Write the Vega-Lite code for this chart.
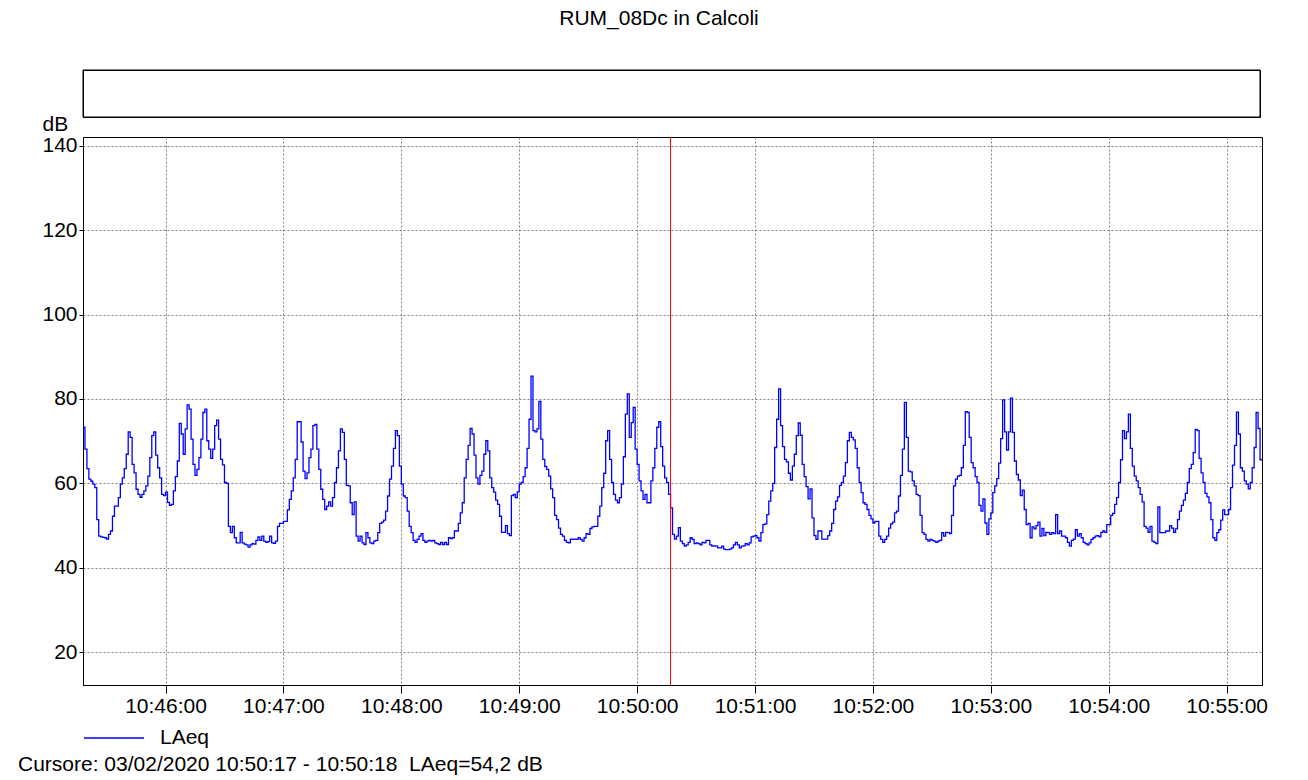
{
"$schema": "https://vega.github.io/schema/vega-lite/v6.json",
"padding": {"left": 18, "right": 42, "top": 8, "bottom": 5},
"background": "white",
"title": {"text": "RUM_08Dc in Calcoli", "anchor": "middle", "fontSize": 21, "fontWeight": "normal", "color": "black", "offset": 40, "dx": 16},
"config": {
  "font": "Liberation Sans, Arial, sans-serif",
  "view": {"stroke": "black", "strokeWidth": 1},
  "legend": {"offset": -9, "padding": 0},
  "axis": {"labelColor": "black", "tickColor": "black", "domainColor": "black", "titleColor": "black", "labelFontSize": 21, "gridColor": "#808080", "gridDash": [2, 2], "gridOpacity": 1}
},
"bounds": "flush",
"spacing": 20,
"resolve": {"scale": {"color": "independent"}, "legend": {"color": "independent"}},
"vconcat": [
  {"width": 1177, "height": 47,
   "data": {"values": [{"a": 0, "b": 1}]},
   "mark": {"type": "rect", "filled": false, "stroke": "black", "strokeWidth": 1},
   "encoding": {
     "x": {"field": "a", "type": "quantitative", "scale": {"domain": [0, 1], "nice": false}, "axis": null},
     "x2": {"field": "b"},
     "y": {"field": "a", "type": "quantitative", "scale": {"domain": [0, 1], "nice": false}, "axis": null},
     "y2": {"field": "b"}
   }},
  {"bounds": "flush", "spacing": 70,
   "resolve": {"scale": {"color": "independent"}, "legend": {"color": "independent"}},
   "vconcat": [
  {"width": 1179, "height": 548,
   "layer": [
    {"data": {"name": "laeq", "format": {"parse": {"t": "date:'%H:%M:%S'"}}},
     "mark": {"type": "line", "interpolate": "step-after", "strokeWidth": 1.3},
     "encoding": {
       "x": {"field": "t", "type": "temporal",
             "scale": {"domain": [{"year": 1900, "month": 1, "date": 1, "hours": 10, "minutes": 45, "seconds": 18}, {"year": 1900, "month": 1, "date": 1, "hours": 10, "minutes": 55, "seconds": 18}]},
             "axis": {"title": null, "format": "%H:%M:%S", "labelFlush": false, "tickSize": 8, "labelPadding": 2, "grid": true,
                      "values": [{"year": 1900, "month": 1, "date": 1, "hours": 10, "minutes": 46}, {"year": 1900, "month": 1, "date": 1, "hours": 10, "minutes": 47}, {"year": 1900, "month": 1, "date": 1, "hours": 10, "minutes": 48}, {"year": 1900, "month": 1, "date": 1, "hours": 10, "minutes": 49}, {"year": 1900, "month": 1, "date": 1, "hours": 10, "minutes": 50}, {"year": 1900, "month": 1, "date": 1, "hours": 10, "minutes": 51}, {"year": 1900, "month": 1, "date": 1, "hours": 10, "minutes": 52}, {"year": 1900, "month": 1, "date": 1, "hours": 10, "minutes": 53}, {"year": 1900, "month": 1, "date": 1, "hours": 10, "minutes": 54}, {"year": 1900, "month": 1, "date": 1, "hours": 10, "minutes": 55}]}},
       "y": {"field": "v", "type": "quantitative",
             "scale": {"domain": [12.2, 142.1], "nice": false, "zero": false},
             "axis": {"values": [20, 40, 60, 80, 100, 120, 140], "tickSize": 4, "labelPadding": 2, "grid": true,
                      "title": "dB", "titleAngle": 0, "titleX": -41, "titleY": -7, "titleAlign": "left", "titleBaseline": "alphabetic", "titleFontSize": 21, "titleFontWeight": "normal"}},
       "color": {"datum": "LAeq", "scale": {"range": ["#0000ff"]},
                 "legend": {"title": null, "orient": "bottom", "symbolType": "stroke", "symbolSize": 3600, "symbolStrokeWidth": 1.3, "labelFontSize": 21, "labelColor": "black", "labelOffset": 15, "offset": -9, "padding": 0}}
     }},
    {"data": {"values": [{"t": "10:50:17"}], "format": {"parse": {"t": "date:'%H:%M:%S'"}}},
     "mark": {"type": "rule", "color": "#ff0000", "stroke": "#ff0000", "strokeWidth": 1, "opacity": 1},
     "encoding": {"x": {"field": "t", "type": "temporal"}}}
   ]},
  {"width": 1179, "height": 20, "view": {"stroke": null},
   "data": {"values": [{"txt": "Cursore: 03/02/2020 10:50:17 - 10:50:18\u00a0\u00a0LAeq=54,2 dB", "p": 0, "q": 0.5}]},
   "mark": {"type": "text", "align": "left", "baseline": "middle", "dx": -65, "fontSize": 21, "color": "black"},
   "encoding": {
     "x": {"field": "p", "type": "quantitative", "scale": {"domain": [0, 1], "nice": false}, "axis": null},
     "y": {"field": "q", "type": "quantitative", "scale": {"domain": [0, 1], "nice": false}, "axis": null},
     "text": {"field": "txt"}
   }}
  ]}
],
"datasets": {"laeq": [
{"t":"10:45:18","v":73.3},{"t":"10:45:19","v":68.1},{"t":"10:45:20","v":63.5},{"t":"10:45:21","v":61.0},{"t":"10:45:22","v":60.5},{"t":"10:45:23","v":59.8},{"t":"10:45:24","v":59.0},{"t":"10:45:25","v":51.4},{"t":"10:45:26","v":47.5},{"t":"10:45:27","v":47.3},{"t":"10:45:28","v":47.2},{"t":"10:45:29","v":47.1},{"t":"10:45:30","v":46.8},{"t":"10:45:31","v":47.9},{"t":"10:45:32","v":48.7},{"t":"10:45:33","v":52.2},{"t":"10:45:34","v":54.6},{"t":"10:45:35","v":54.6},{"t":"10:45:36","v":56.6},{"t":"10:45:37","v":59.8},{"t":"10:45:38","v":61.3},{"t":"10:45:39","v":63.5},{"t":"10:45:40","v":66.9},{"t":"10:45:41","v":72.2},{"t":"10:45:42","v":70.9},{"t":"10:45:43","v":64.5},{"t":"10:45:44","v":62.5},{"t":"10:45:45","v":58.6},{"t":"10:45:46","v":57.4},{"t":"10:45:47","v":56.7},{"t":"10:45:48","v":57.4},{"t":"10:45:49","v":58.2},{"t":"10:45:50","v":59.4},{"t":"10:45:51","v":61.7},{"t":"10:45:52","v":66.1},{"t":"10:45:53","v":71.3},{"t":"10:45:54","v":72.2},{"t":"10:45:55","v":66.7},{"t":"10:45:56","v":63.7},{"t":"10:45:57","v":61.3},{"t":"10:45:58","v":57.4},{"t":"10:45:59","v":57.1},
{"t":"10:46:00","v":57.9},{"t":"10:46:01","v":55.5},{"t":"10:46:02","v":54.8},{"t":"10:46:03","v":55.0},{"t":"10:46:04","v":58.2},{"t":"10:46:05","v":61.6},{"t":"10:46:06","v":65.3},{"t":"10:46:07","v":74.2},{"t":"10:46:08","v":71.7},{"t":"10:46:09","v":66.9},{"t":"10:46:10","v":72.9},{"t":"10:46:11","v":78.6},{"t":"10:46:12","v":77.6},{"t":"10:46:13","v":70.5},{"t":"10:46:14","v":64.5},{"t":"10:46:15","v":61.9},{"t":"10:46:16","v":63.3},{"t":"10:46:17","v":66.1},{"t":"10:46:18","v":70.5},{"t":"10:46:19","v":76.8},{"t":"10:46:20","v":77.6},{"t":"10:46:21","v":70.1},{"t":"10:46:22","v":68.1},{"t":"10:46:23","v":65.9},{"t":"10:46:24","v":68.1},{"t":"10:46:25","v":73.7},{"t":"10:46:26","v":75.0},{"t":"10:46:27","v":70.5},{"t":"10:46:28","v":65.7},{"t":"10:46:29","v":64.4},{"t":"10:46:30","v":60.2},{"t":"10:46:31","v":60.0},{"t":"10:46:32","v":49.8},{"t":"10:46:33","v":48.3},{"t":"10:46:34","v":49.8},{"t":"10:46:35","v":47.1},{"t":"10:46:36","v":45.9},{"t":"10:46:37","v":45.9},{"t":"10:46:38","v":48.4},{"t":"10:46:39","v":45.9},{"t":"10:46:40","v":45.6},{"t":"10:46:41","v":45.4},{"t":"10:46:42","v":44.9},{"t":"10:46:43","v":45.4},{"t":"10:46:44","v":45.7},{"t":"10:46:45","v":45.6},{"t":"10:46:46","v":46.5},{"t":"10:46:47","v":47.3},{"t":"10:46:48","v":46.5},{"t":"10:46:49","v":47.5},{"t":"10:46:50","v":46.3},{"t":"10:46:51","v":46.0},{"t":"10:46:52","v":46.2},{"t":"10:46:53","v":47.5},{"t":"10:46:54","v":45.9},{"t":"10:46:55","v":45.8},{"t":"10:46:56","v":46.3},{"t":"10:46:57","v":49.8},{"t":"10:46:58","v":50.5},{"t":"10:46:59","v":50.5},
{"t":"10:47:00","v":51.0},{"t":"10:47:01","v":51.0},{"t":"10:47:02","v":53.7},{"t":"10:47:03","v":56.2},{"t":"10:47:04","v":58.2},{"t":"10:47:05","v":61.3},{"t":"10:47:06","v":65.7},{"t":"10:47:07","v":74.6},{"t":"10:47:08","v":74.6},{"t":"10:47:09","v":69.8},{"t":"10:47:10","v":62.9},{"t":"10:47:11","v":61.1},{"t":"10:47:12","v":62.5},{"t":"10:47:13","v":66.1},{"t":"10:47:14","v":68.1},{"t":"10:47:15","v":73.7},{"t":"10:47:16","v":74.0},{"t":"10:47:17","v":68.1},{"t":"10:47:18","v":63.3},{"t":"10:47:19","v":58.6},{"t":"10:47:20","v":56.2},{"t":"10:47:21","v":53.8},{"t":"10:47:22","v":54.6},{"t":"10:47:23","v":55.6},{"t":"10:47:24","v":54.6},{"t":"10:47:25","v":56.6},{"t":"10:47:26","v":60.2},{"t":"10:47:27","v":63.7},{"t":"10:47:28","v":67.7},{"t":"10:47:29","v":72.9},{"t":"10:47:30","v":72.1},{"t":"10:47:31","v":65.7},{"t":"10:47:32","v":59.5},{"t":"10:47:33","v":59.4},{"t":"10:47:34","v":55.4},{"t":"10:47:35","v":52.6},{"t":"10:47:36","v":55.6},{"t":"10:47:37","v":47.5},{"t":"10:47:38","v":46.3},{"t":"10:47:39","v":47.5},{"t":"10:47:40","v":45.9},{"t":"10:47:41","v":45.5},{"t":"10:47:42","v":48.3},{"t":"10:47:43","v":47.1},{"t":"10:47:44","v":45.9},{"t":"10:47:45","v":45.7},{"t":"10:47:46","v":46.3},{"t":"10:47:47","v":46.5},{"t":"10:47:48","v":48.3},{"t":"10:47:49","v":50.5},{"t":"10:47:50","v":50.8},{"t":"10:47:51","v":51.3},{"t":"10:47:52","v":53.4},{"t":"10:47:53","v":57.0},{"t":"10:47:54","v":61.0},{"t":"10:47:55","v":64.1},{"t":"10:47:56","v":68.3},{"t":"10:47:57","v":72.5},{"t":"10:47:58","v":71.3},{"t":"10:47:59","v":64.1},
{"t":"10:48:00","v":59.8},{"t":"10:48:01","v":57.0},{"t":"10:48:02","v":56.6},{"t":"10:48:03","v":53.4},{"t":"10:48:04","v":49.8},{"t":"10:48:05","v":48.3},{"t":"10:48:06","v":46.5},{"t":"10:48:07","v":46.0},{"t":"10:48:08","v":46.7},{"t":"10:48:09","v":47.5},{"t":"10:48:10","v":48.1},{"t":"10:48:11","v":46.5},{"t":"10:48:12","v":46.0},{"t":"10:48:13","v":46.3},{"t":"10:48:14","v":46.5},{"t":"10:48:15","v":46.3},{"t":"10:48:16","v":46.5},{"t":"10:48:17","v":45.9},{"t":"10:48:18","v":45.7},{"t":"10:48:19","v":45.5},{"t":"10:48:20","v":46.0},{"t":"10:48:21","v":45.5},{"t":"10:48:22","v":46.0},{"t":"10:48:23","v":45.5},{"t":"10:48:24","v":47.1},{"t":"10:48:25","v":46.9},{"t":"10:48:26","v":47.1},{"t":"10:48:27","v":48.7},{"t":"10:48:28","v":48.7},{"t":"10:48:29","v":50.5},{"t":"10:48:30","v":53.0},{"t":"10:48:31","v":55.4},{"t":"10:48:32","v":61.3},{"t":"10:48:33","v":65.7},{"t":"10:48:34","v":69.0},{"t":"10:48:35","v":73.0},{"t":"10:48:36","v":71.7},{"t":"10:48:37","v":66.7},{"t":"10:48:38","v":61.3},{"t":"10:48:39","v":59.8},{"t":"10:48:40","v":61.9},{"t":"10:48:41","v":62.9},{"t":"10:48:42","v":66.9},{"t":"10:48:43","v":70.1},{"t":"10:48:44","v":67.7},{"t":"10:48:45","v":61.3},{"t":"10:48:46","v":59.0},{"t":"10:48:47","v":57.9},{"t":"10:48:48","v":56.0},{"t":"10:48:49","v":55.0},{"t":"10:48:50","v":52.2},{"t":"10:48:51","v":48.4},{"t":"10:48:52","v":48.4},{"t":"10:48:53","v":50.0},{"t":"10:48:54","v":48.1},{"t":"10:48:55","v":47.6},{"t":"10:48:56","v":57.1},{"t":"10:48:57","v":57.4},{"t":"10:48:58","v":56.6},{"t":"10:48:59","v":58.0},
{"t":"10:49:00","v":59.8},{"t":"10:49:01","v":60.2},{"t":"10:49:02","v":61.6},{"t":"10:49:03","v":63.7},{"t":"10:49:04","v":68.3},{"t":"10:49:05","v":75.2},{"t":"10:49:06","v":85.4},{"t":"10:49:07","v":72.5},{"t":"10:49:08","v":72.2},{"t":"10:49:09","v":72.9},{"t":"10:49:10","v":79.4},{"t":"10:49:11","v":70.5},{"t":"10:49:12","v":65.7},{"t":"10:49:13","v":64.0},{"t":"10:49:14","v":63.3},{"t":"10:49:15","v":61.7},{"t":"10:49:16","v":58.7},{"t":"10:49:17","v":56.6},{"t":"10:49:18","v":52.4},{"t":"10:49:19","v":51.4},{"t":"10:49:20","v":49.4},{"t":"10:49:21","v":47.9},{"t":"10:49:22","v":47.5},{"t":"10:49:23","v":46.5},{"t":"10:49:24","v":46.0},{"t":"10:49:25","v":45.9},{"t":"10:49:26","v":46.8},{"t":"10:49:27","v":46.7},{"t":"10:49:28","v":46.8},{"t":"10:49:29","v":46.7},{"t":"10:49:30","v":47.1},{"t":"10:49:31","v":46.7},{"t":"10:49:32","v":46.3},{"t":"10:49:33","v":47.1},{"t":"10:49:34","v":48.1},{"t":"10:49:35","v":47.9},{"t":"10:49:36","v":49.3},{"t":"10:49:37","v":49.7},{"t":"10:49:38","v":49.8},{"t":"10:49:39","v":49.8},{"t":"10:49:40","v":52.2},{"t":"10:49:41","v":54.6},{"t":"10:49:42","v":59.0},{"t":"10:49:43","v":62.4},{"t":"10:49:44","v":70.1},{"t":"10:49:45","v":72.5},{"t":"10:49:46","v":65.7},{"t":"10:49:47","v":60.2},{"t":"10:49:48","v":57.4},{"t":"10:49:49","v":56.0},{"t":"10:49:50","v":55.4},{"t":"10:49:51","v":56.6},{"t":"10:49:52","v":59.8},{"t":"10:49:53","v":66.3},{"t":"10:49:54","v":76.4},{"t":"10:49:55","v":81.2},{"t":"10:49:56","v":70.9},{"t":"10:49:57","v":74.4},{"t":"10:49:58","v":78.0},{"t":"10:49:59","v":68.1},
{"t":"10:50:00","v":64.5},{"t":"10:50:01","v":60.6},{"t":"10:50:02","v":58.2},{"t":"10:50:03","v":56.2},{"t":"10:50:04","v":57.4},{"t":"10:50:05","v":55.4},{"t":"10:50:06","v":55.4},{"t":"10:50:07","v":60.6},{"t":"10:50:08","v":63.7},{"t":"10:50:09","v":68.3},{"t":"10:50:10","v":73.3},{"t":"10:50:11","v":74.6},{"t":"10:50:12","v":68.7},{"t":"10:50:13","v":64.1},{"t":"10:50:14","v":61.3},{"t":"10:50:15","v":60.2},{"t":"10:50:16","v":57.4},{"t":"10:50:17","v":54.2},{"t":"10:50:18","v":47.9},{"t":"10:50:19","v":46.8},{"t":"10:50:20","v":47.5},{"t":"10:50:21","v":49.5},{"t":"10:50:22","v":46.3},{"t":"10:50:23","v":45.7},{"t":"10:50:24","v":45.1},{"t":"10:50:25","v":45.4},{"t":"10:50:26","v":46.0},{"t":"10:50:27","v":47.1},{"t":"10:50:28","v":46.7},{"t":"10:50:29","v":45.7},{"t":"10:50:30","v":45.9},{"t":"10:50:31","v":45.7},{"t":"10:50:32","v":45.4},{"t":"10:50:33","v":46.0},{"t":"10:50:34","v":45.9},{"t":"10:50:35","v":46.5},{"t":"10:50:36","v":46.5},{"t":"10:50:37","v":45.4},{"t":"10:50:38","v":45.1},{"t":"10:50:39","v":45.2},{"t":"10:50:40","v":45.1},{"t":"10:50:41","v":44.7},{"t":"10:50:42","v":44.7},{"t":"10:50:43","v":45.1},{"t":"10:50:44","v":44.4},{"t":"10:50:45","v":44.3},{"t":"10:50:46","v":44.3},{"t":"10:50:47","v":44.4},{"t":"10:50:48","v":44.7},{"t":"10:50:49","v":45.4},{"t":"10:50:50","v":46.0},{"t":"10:50:51","v":45.4},{"t":"10:50:52","v":44.7},{"t":"10:50:53","v":45.1},{"t":"10:50:54","v":45.2},{"t":"10:50:55","v":45.7},{"t":"10:50:56","v":45.4},{"t":"10:50:57","v":45.9},{"t":"10:50:58","v":47.3},{"t":"10:50:59","v":47.5},
{"t":"10:51:00","v":47.6},{"t":"10:51:01","v":47.1},{"t":"10:51:02","v":46.3},{"t":"10:51:03","v":48.3},{"t":"10:51:04","v":50.2},{"t":"10:51:05","v":50.4},{"t":"10:51:06","v":52.6},{"t":"10:51:07","v":55.8},{"t":"10:51:08","v":58.2},{"t":"10:51:09","v":60.0},{"t":"10:51:10","v":68.5},{"t":"10:51:11","v":75.2},{"t":"10:51:12","v":82.4},{"t":"10:51:13","v":73.7},{"t":"10:51:14","v":68.7},{"t":"10:51:15","v":65.7},{"t":"10:51:16","v":65.1},{"t":"10:51:17","v":62.4},{"t":"10:51:18","v":60.8},{"t":"10:51:19","v":64.1},{"t":"10:51:20","v":66.9},{"t":"10:51:21","v":71.3},{"t":"10:51:22","v":74.3},{"t":"10:51:23","v":71.4},{"t":"10:51:24","v":64.5},{"t":"10:51:25","v":61.6},{"t":"10:51:26","v":59.2},{"t":"10:51:27","v":56.3},{"t":"10:51:28","v":58.7},{"t":"10:51:29","v":51.8},{"t":"10:51:30","v":47.6},{"t":"10:51:31","v":46.7},{"t":"10:51:32","v":48.7},{"t":"10:51:33","v":48.7},{"t":"10:51:34","v":46.8},{"t":"10:51:35","v":46.8},{"t":"10:51:36","v":46.8},{"t":"10:51:37","v":47.6},{"t":"10:51:38","v":48.7},{"t":"10:51:39","v":50.5},{"t":"10:51:40","v":53.8},{"t":"10:51:41","v":55.8},{"t":"10:51:42","v":56.8},{"t":"10:51:43","v":59.5},{"t":"10:51:44","v":60.2},{"t":"10:51:45","v":61.7},{"t":"10:51:46","v":64.9},{"t":"10:51:47","v":70.1},{"t":"10:51:48","v":72.1},{"t":"10:51:49","v":70.9},{"t":"10:51:50","v":70.3},{"t":"10:51:51","v":68.3},{"t":"10:51:52","v":63.7},{"t":"10:51:53","v":60.2},{"t":"10:51:54","v":57.8},{"t":"10:51:55","v":55.4},{"t":"10:51:56","v":55.0},{"t":"10:51:57","v":53.8},{"t":"10:51:58","v":52.4},{"t":"10:51:59","v":51.6},
{"t":"10:52:00","v":50.6},{"t":"10:52:01","v":51.0},{"t":"10:52:02","v":51.0},{"t":"10:52:03","v":47.5},{"t":"10:52:04","v":46.7},{"t":"10:52:05","v":46.0},{"t":"10:52:06","v":46.7},{"t":"10:52:07","v":47.5},{"t":"10:52:08","v":49.4},{"t":"10:52:09","v":50.4},{"t":"10:52:10","v":50.8},{"t":"10:52:11","v":53.0},{"t":"10:52:12","v":53.4},{"t":"10:52:13","v":57.0},{"t":"10:52:14","v":61.9},{"t":"10:52:15","v":68.1},{"t":"10:52:16","v":79.2},{"t":"10:52:17","v":70.9},{"t":"10:52:18","v":62.9},{"t":"10:52:19","v":62.7},{"t":"10:52:20","v":60.6},{"t":"10:52:21","v":59.4},{"t":"10:52:22","v":57.4},{"t":"10:52:23","v":57.1},{"t":"10:52:24","v":52.4},{"t":"10:52:25","v":48.3},{"t":"10:52:26","v":47.9},{"t":"10:52:27","v":46.7},{"t":"10:52:28","v":46.3},{"t":"10:52:29","v":46.7},{"t":"10:52:30","v":46.5},{"t":"10:52:31","v":46.3},{"t":"10:52:32","v":46.0},{"t":"10:52:33","v":46.3},{"t":"10:52:34","v":46.5},{"t":"10:52:35","v":48.3},{"t":"10:52:36","v":47.5},{"t":"10:52:37","v":48.4},{"t":"10:52:38","v":48.3},{"t":"10:52:39","v":48.1},{"t":"10:52:40","v":52.4},{"t":"10:52:41","v":59.4},{"t":"10:52:42","v":61.0},{"t":"10:52:43","v":61.7},{"t":"10:52:44","v":61.9},{"t":"10:52:45","v":63.7},{"t":"10:52:46","v":69.0},{"t":"10:52:47","v":77.0},{"t":"10:52:48","v":76.8},{"t":"10:52:49","v":70.9},{"t":"10:52:50","v":64.9},{"t":"10:52:51","v":63.7},{"t":"10:52:52","v":61.6},{"t":"10:52:53","v":60.2},{"t":"10:52:54","v":54.8},{"t":"10:52:55","v":53.4},{"t":"10:52:56","v":56.3},{"t":"10:52:57","v":50.6},{"t":"10:52:58","v":47.9},{"t":"10:52:59","v":51.6},
{"t":"10:53:00","v":53.0},{"t":"10:53:01","v":57.8},{"t":"10:53:02","v":59.4},{"t":"10:53:03","v":61.1},{"t":"10:53:04","v":64.8},{"t":"10:53:05","v":70.6},{"t":"10:53:06","v":79.8},{"t":"10:53:07","v":72.2},{"t":"10:53:08","v":67.9},{"t":"10:53:09","v":72.2},{"t":"10:53:10","v":80.2},{"t":"10:53:11","v":72.1},{"t":"10:53:12","v":65.3},{"t":"10:53:13","v":62.1},{"t":"10:53:14","v":60.8},{"t":"10:53:15","v":57.1},{"t":"10:53:16","v":58.4},{"t":"10:53:17","v":53.8},{"t":"10:53:18","v":50.2},{"t":"10:53:19","v":50.5},{"t":"10:53:20","v":47.1},{"t":"10:53:21","v":49.7},{"t":"10:53:22","v":49.2},{"t":"10:53:23","v":50.0},{"t":"10:53:24","v":50.8},{"t":"10:53:25","v":47.5},{"t":"10:53:26","v":49.3},{"t":"10:53:27","v":47.6},{"t":"10:53:28","v":48.4},{"t":"10:53:29","v":48.3},{"t":"10:53:30","v":47.9},{"t":"10:53:31","v":48.3},{"t":"10:53:32","v":48.1},{"t":"10:53:33","v":52.6},{"t":"10:53:34","v":48.1},{"t":"10:53:35","v":48.7},{"t":"10:53:36","v":47.5},{"t":"10:53:37","v":47.5},{"t":"10:53:38","v":47.1},{"t":"10:53:39","v":46.0},{"t":"10:53:40","v":45.1},{"t":"10:53:41","v":46.5},{"t":"10:53:42","v":46.8},{"t":"10:53:43","v":49.0},{"t":"10:53:44","v":47.5},{"t":"10:53:45","v":48.1},{"t":"10:53:46","v":47.1},{"t":"10:53:47","v":46.0},{"t":"10:53:48","v":45.7},{"t":"10:53:49","v":45.4},{"t":"10:53:50","v":45.9},{"t":"10:53:51","v":46.7},{"t":"10:53:52","v":47.1},{"t":"10:53:53","v":47.5},{"t":"10:53:54","v":47.6},{"t":"10:53:55","v":47.3},{"t":"10:53:56","v":48.4},{"t":"10:53:57","v":48.7},{"t":"10:53:58","v":48.4},{"t":"10:53:59","v":50.2},
{"t":"10:54:00","v":50.2},{"t":"10:54:01","v":52.4},{"t":"10:54:02","v":52.9},{"t":"10:54:03","v":55.0},{"t":"10:54:04","v":56.6},{"t":"10:54:05","v":60.2},{"t":"10:54:06","v":65.6},{"t":"10:54:07","v":72.5},{"t":"10:54:08","v":70.6},{"t":"10:54:09","v":72.2},{"t":"10:54:10","v":76.4},{"t":"10:54:11","v":68.3},{"t":"10:54:12","v":64.1},{"t":"10:54:13","v":61.7},{"t":"10:54:14","v":60.6},{"t":"10:54:15","v":59.0},{"t":"10:54:16","v":57.4},{"t":"10:54:17","v":55.6},{"t":"10:54:18","v":49.8},{"t":"10:54:19","v":49.4},{"t":"10:54:20","v":48.4},{"t":"10:54:21","v":49.8},{"t":"10:54:22","v":46.3},{"t":"10:54:23","v":46.0},{"t":"10:54:24","v":45.7},{"t":"10:54:25","v":54.4},{"t":"10:54:26","v":48.3},{"t":"10:54:27","v":48.3},{"t":"10:54:28","v":48.3},{"t":"10:54:29","v":48.7},{"t":"10:54:30","v":48.7},{"t":"10:54:31","v":50.0},{"t":"10:54:32","v":49.4},{"t":"10:54:33","v":48.4},{"t":"10:54:34","v":49.2},{"t":"10:54:35","v":51.4},{"t":"10:54:36","v":53.4},{"t":"10:54:37","v":54.8},{"t":"10:54:38","v":56.0},{"t":"10:54:39","v":57.6},{"t":"10:54:40","v":60.2},{"t":"10:54:41","v":63.5},{"t":"10:54:42","v":64.5},{"t":"10:54:43","v":67.3},{"t":"10:54:44","v":72.8},{"t":"10:54:45","v":72.5},{"t":"10:54:46","v":65.9},{"t":"10:54:47","v":62.5},{"t":"10:54:48","v":60.2},{"t":"10:54:49","v":57.6},{"t":"10:54:50","v":56.8},{"t":"10:54:51","v":55.4},{"t":"10:54:52","v":51.4},{"t":"10:54:53","v":47.1},{"t":"10:54:54","v":46.5},{"t":"10:54:55","v":48.3},{"t":"10:54:56","v":49.0},{"t":"10:54:57","v":51.3},{"t":"10:54:58","v":53.7},{"t":"10:54:59","v":52.6},
{"t":"10:55:00","v":52.6},{"t":"10:55:01","v":53.8},{"t":"10:55:02","v":59.0},{"t":"10:55:03","v":64.3},{"t":"10:55:04","v":69.0},{"t":"10:55:05","v":76.9},{"t":"10:55:06","v":71.7},{"t":"10:55:07","v":63.7},{"t":"10:55:08","v":62.9},{"t":"10:55:09","v":60.6},{"t":"10:55:10","v":59.8},{"t":"10:55:11","v":58.7},{"t":"10:55:12","v":60.2},{"t":"10:55:13","v":63.7},{"t":"10:55:14","v":68.5},{"t":"10:55:15","v":76.8},{"t":"10:55:16","v":73.0},{"t":"10:55:17","v":65.6},{"t":"10:55:18","v":65.6}
]}
}
